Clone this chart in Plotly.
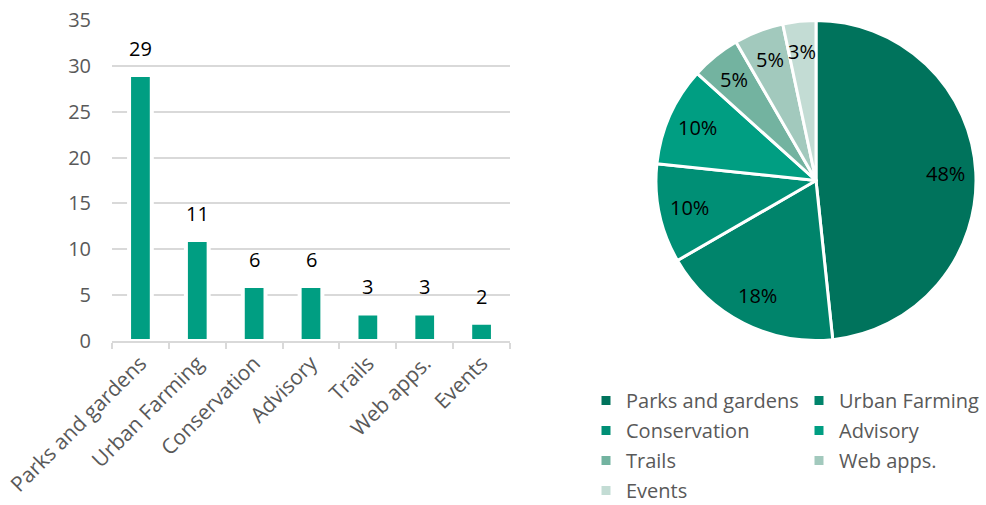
import math
import plotly.graph_objects as go

# ---- data ----
categories = ["Parks and gardens", "Urban Farming", "Conservation", "Advisory",
              "Trails", "Web apps.", "Events"]
counts = [29, 11, 6, 6, 3, 3, 2]
y_ticks = [0, 5, 10, 15, 20, 25, 30, 35]
pie_colors = ["#00735C", "#00846B", "#008F75", "#009E82", "#73B3A0", "#A2C9BD", "#C3DCD4"]
bar_color = "#009E82"
legend_col1 = ["Parks and gardens", "Conservation", "Trails", "Events"]
legend_col2 = ["Urban Farming", "Advisory", "Web apps."]

# ---- layout geometry ----
W, H = 986, 505
L, R, T, B = 112, 10, 20, 164
PW = W - L - R
PH = H - T - B
FONT = "Open Sans"
FS = 20
FS_CAT = 21
GRAY = "#595959"
LINE = "#D9D9D9"

pie_dom_x = [(656 - L) / PW, 1.0]
pie_dom_y = [0.0, 1.0]

fig = go.Figure()

fig.add_trace(go.Bar(
    x=categories, y=counts, width=0.4,
    marker=dict(color=bar_color, line=dict(color="white", width=4)),
    showlegend=False, hoverinfo="x+y",
))

# value labels above the bars
for c, v in zip(categories, counts):
    fig.add_annotation(x=c, y=v, text=str(v), showarrow=False, xref="x", yref="y",
                       xanchor="center", yanchor="bottom", yshift=11,
                       font=dict(family=FONT, size=FS, color="black"))

fig.add_trace(go.Pie(
    labels=categories, values=counts, sort=False, direction="clockwise", rotation=0,
    marker=dict(colors=pie_colors, line=dict(color="white", width=3)),
    textinfo="none",
    domain=dict(x=pie_dom_x, y=pie_dom_y),
    showlegend=False, hoverinfo="label+percent",
))

# percentage labels placed along each slice's bisector (computed from the data)
total = sum(counts)
radius_px = min((pie_dom_x[1] - pie_dom_x[0]) * PW, (pie_dom_y[1] - pie_dom_y[0]) * PH) / 2
cxp = sum(pie_dom_x) / 2
cyp = sum(pie_dom_y) / 2
cum = 0
for c, v in zip(categories, counts):
    mid = (cum + v / 2) / total * 2 * math.pi
    cum += v
    rr = 0.81 * radius_px
    fig.add_annotation(
        x=cxp + rr * math.sin(mid) / PW, y=cyp + rr * math.cos(mid) / PH,
        xref="paper", yref="paper", xanchor="center", yanchor="middle",
        showarrow=False, text=f"{round(100 * v / total)}%",
        font=dict(family=FONT, size=FS, color="black"),
    )

color_of = dict(zip(categories, pie_colors))
for legname, items in (("legend", legend_col1), ("legend2", legend_col2)):
    for cat in items:
        fig.add_trace(go.Scatter(
            x=[None], y=[None], mode="markers",
            marker=dict(symbol="square", size=9, color=color_of[cat]),
            name=cat, legend=legname, legendgroup=cat, hoverinfo="skip",
        ))

legend_common = dict(
    xref="container", yref="container", xanchor="left", yanchor="top",
    y=1 - 381 / H, font=dict(family=FONT, size=FS, color=GRAY),
    traceorder="grouped", tracegroupgap=1, bgcolor="rgba(0,0,0,0)",
    orientation="v",
)

fig.update_layout(
    width=W, height=H,
    margin=dict(l=L, r=R, t=T, b=B, autoexpand=False),
    paper_bgcolor="white", plot_bgcolor="white",
    font=dict(family=FONT, color=GRAY),
    xaxis=dict(
        domain=[0, (510 - L) / PW], type="category",
        categoryorder="array", categoryarray=categories,
        tickangle=-45, showline=True, linecolor=LINE, linewidth=1.5,
        ticks="outside", tickson="boundaries", ticklen=6, tickcolor=LINE, tickwidth=1.5,
        tickfont=dict(family=FONT, size=FS_CAT, color=GRAY), showgrid=False,
    ),
    yaxis=dict(
        domain=[0, 1], range=[0, 35], tickvals=y_ticks,
        showgrid=True, gridcolor=LINE, gridwidth=1.5, zeroline=False, showline=False,
        ticklabelstandoff=20, tickfont=dict(family=FONT, size=FS, color=GRAY),
    ),
    legend=dict(x=586 / W, **legend_common),
    legend2=dict(x=799 / W, **legend_common),
    showlegend=True,
)

fig.write_html("out.html", config={"displayModeBar": False},
               post_script="document.body.style.margin='0px';")
